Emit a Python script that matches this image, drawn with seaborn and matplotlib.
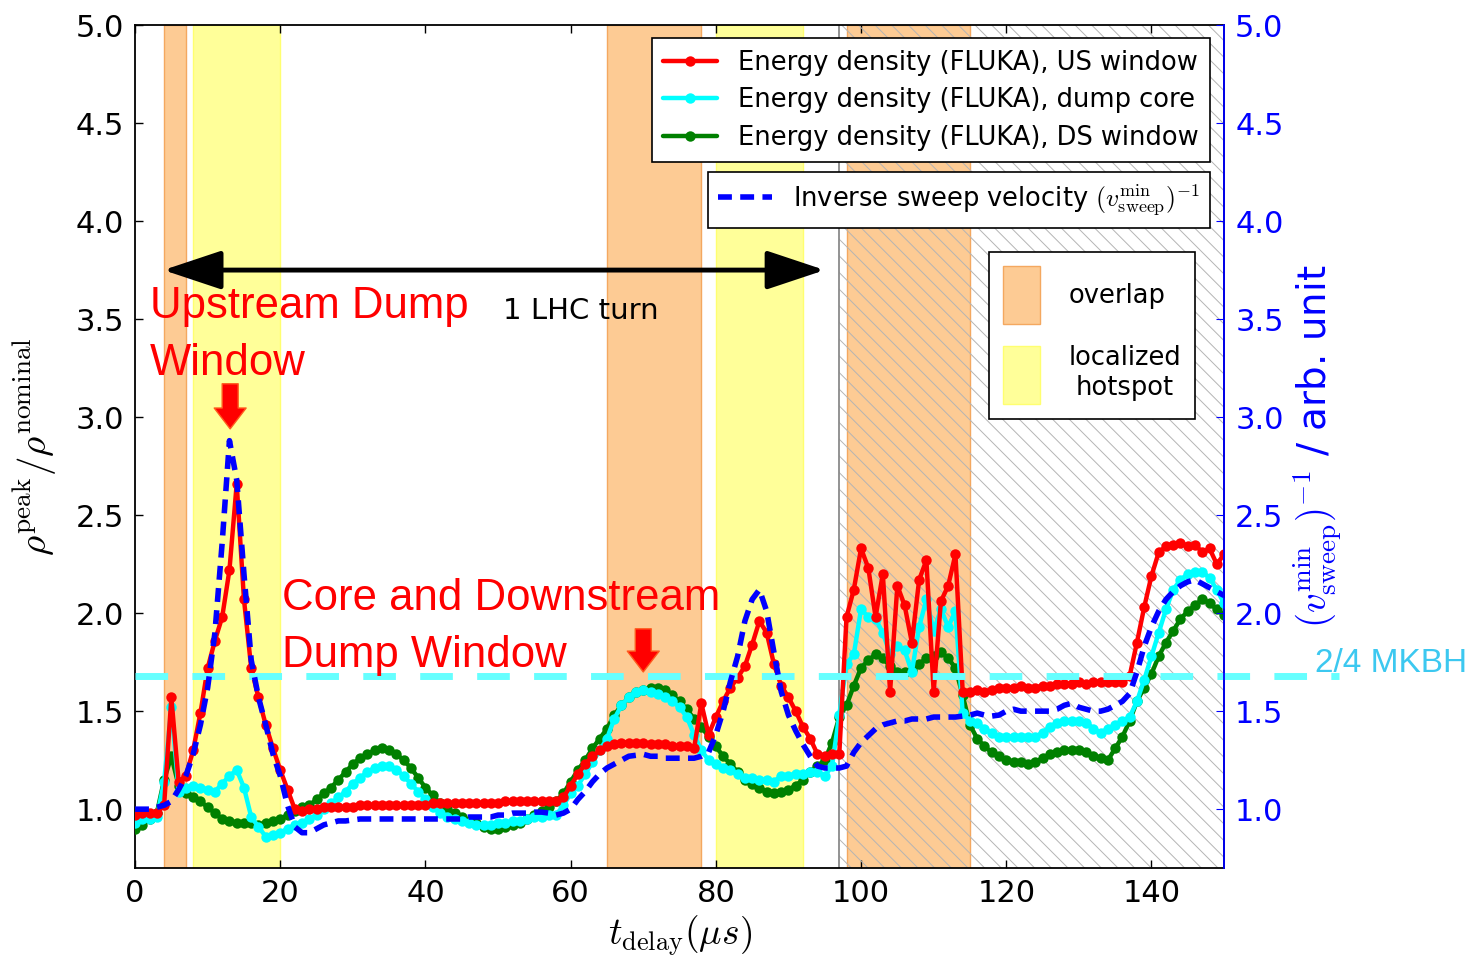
import matplotlib
matplotlib.use("Agg")
import matplotlib.pyplot as plt
import seaborn as sns
from matplotlib.lines import Line2D
from matplotlib.patches import Patch

# ---------------- data ----------------
t_delay = list(range(0, 151))

us_window = [
    0.97, 0.98, 0.98, 0.98, 1.02, 1.57, 1.14, 1.17, 1.30, 1.49,
    1.72, 1.86, 1.98, 2.22, 2.66, 2.07, 1.72, 1.57, 1.43, 1.31,
    1.20, 1.10, 1.00, 0.99, 1.00, 1.00, 1.01, 1.01, 1.01, 1.01,
    1.01, 1.02, 1.02, 1.02, 1.02, 1.02, 1.02, 1.02, 1.02, 1.02,
    1.02, 1.03, 1.03, 1.03, 1.03, 1.03, 1.03, 1.03, 1.03, 1.03,
    1.03, 1.04, 1.04, 1.04, 1.04, 1.04, 1.04, 1.04, 1.04, 1.06,
    1.12, 1.18, 1.23, 1.27, 1.30, 1.32, 1.33, 1.34, 1.34, 1.34,
    1.34, 1.33, 1.33, 1.33, 1.32, 1.32, 1.32, 1.31, 1.54, 1.38,
    1.47, 1.55, 1.62, 1.67, 1.73, 1.84, 1.96, 1.90, 1.74, 1.63,
    1.57, 1.50, 1.42, 1.36, 1.28, 1.27, 1.28, 1.28, 1.98, 2.12,
    2.33, 2.23, 1.98, 2.20, 1.60, 2.14, 2.04, 1.85, 2.17, 2.27,
    1.60, 2.06, 2.14, 2.30, 1.60, 1.60, 1.61, 1.60, 1.61, 1.62,
    1.62, 1.62, 1.63, 1.62, 1.62, 1.63, 1.63, 1.64, 1.64, 1.64,
    1.65, 1.64, 1.65, 1.65, 1.65, 1.65, 1.65, 1.68, 1.85, 2.03,
    2.19, 2.31, 2.34, 2.35, 2.36, 2.34, 2.35, 2.31, 2.33, 2.25, 2.30,
]

dump_core = [
    0.93, 0.95, 0.95, 0.96, 1.14, 1.52, 1.09, 1.11, 1.12, 1.11,
    1.10, 1.09, 1.13, 1.17, 1.20, 1.11, 0.96, 0.91, 0.86, 0.87,
    0.88, 0.90, 0.92, 0.93, 0.95, 0.97, 1.00, 1.03, 1.06, 1.09,
    1.13, 1.16, 1.19, 1.21, 1.22, 1.22, 1.20, 1.17, 1.13, 1.09,
    1.05, 1.01, 0.98, 0.96, 0.95, 0.94, 0.93, 0.92, 0.92, 0.92,
    0.93, 0.93, 0.94, 0.94, 0.95, 0.96, 0.96, 0.97, 0.97, 1.02,
    1.08, 1.12, 1.18, 1.24, 1.30, 1.36, 1.46, 1.53, 1.57, 1.60,
    1.61, 1.60, 1.59, 1.57, 1.55, 1.52, 1.47, 1.38, 1.30, 1.25,
    1.23, 1.21, 1.20, 1.18, 1.16, 1.16, 1.15, 1.15, 1.14, 1.17,
    1.17, 1.18, 1.18, 1.19, 1.19, 1.17, 1.22, 1.48, 1.74, 1.79,
    2.02, 1.98, 1.97, 1.90, 1.79, 1.83, 1.81, 1.70, 1.93, 2.07,
    1.91, 2.02, 1.93, 2.01, 1.49, 1.45, 1.44, 1.41, 1.39, 1.37,
    1.37, 1.37, 1.37, 1.37, 1.37, 1.39, 1.42, 1.44, 1.45, 1.45,
    1.45, 1.44, 1.41, 1.39, 1.41, 1.43, 1.45, 1.47, 1.55, 1.66,
    1.78, 1.90, 2.02, 2.12, 2.17, 2.20, 2.21, 2.21, 2.18, 2.12, 2.05,
]

ds_window = [
    0.90, 0.92, 0.95, 0.98, 1.15, 1.27, 1.12, 1.08, 1.06, 1.04,
    1.01, 0.98, 0.95, 0.94, 0.93, 0.93, 0.93, 0.92, 0.93, 0.94,
    0.95, 0.97, 0.99, 1.01, 1.02, 1.05, 1.08, 1.11, 1.15, 1.19,
    1.23, 1.26, 1.28, 1.30, 1.31, 1.30, 1.28, 1.25, 1.21, 1.16,
    1.11, 1.07, 1.03, 1.00, 0.98, 0.96, 0.94, 0.93, 0.91, 0.90,
    0.90, 0.91, 0.92, 0.93, 0.95, 0.97, 0.99, 1.01, 1.04, 1.08,
    1.14, 1.20, 1.25, 1.31, 1.36, 1.41, 1.48, 1.53, 1.57, 1.60,
    1.61, 1.62, 1.62, 1.61, 1.58, 1.55, 1.51, 1.46, 1.42, 1.37,
    1.32, 1.27, 1.23, 1.19, 1.15, 1.13, 1.11, 1.09, 1.08, 1.09,
    1.10, 1.12, 1.15, 1.19, 1.22, 1.25, 1.34, 1.47, 1.53, 1.63,
    1.72, 1.76, 1.79, 1.77, 1.73, 1.70, 1.70, 1.71, 1.74, 1.77,
    1.78, 1.80, 1.77, 1.72, 1.58, 1.43, 1.36, 1.32, 1.29, 1.27,
    1.25, 1.24, 1.24, 1.23, 1.24, 1.26, 1.28, 1.29, 1.30, 1.30,
    1.30, 1.29, 1.27, 1.26, 1.25, 1.31, 1.37, 1.45, 1.55, 1.62,
    1.69, 1.78, 1.85, 1.91, 1.97, 2.01, 2.04, 2.07, 2.05, 2.02, 1.99,
]

inv_sweep = [
    1.00, 1.00, 1.00, 1.01, 1.02, 1.04, 1.10, 1.17, 1.28, 1.43,
    1.62, 1.90, 2.36, 2.88, 2.68, 2.20, 1.76, 1.57, 1.43, 1.28,
    1.17, 1.02, 0.91, 0.88, 0.88, 0.90, 0.92, 0.93, 0.94, 0.94,
    0.945, 0.95, 0.95, 0.95, 0.95, 0.95, 0.95, 0.95, 0.95, 0.95,
    0.95, 0.95, 0.95, 0.95, 0.95, 0.95, 0.96, 0.96, 0.96, 0.96,
    0.97, 0.97, 0.98, 0.98, 0.98, 0.985, 0.985, 0.98, 0.97, 0.98,
    1.00, 1.05, 1.09, 1.14, 1.18, 1.21, 1.23, 1.25, 1.27, 1.275,
    1.28, 1.27, 1.27, 1.26, 1.26, 1.26, 1.26, 1.26, 1.27, 1.29,
    1.38, 1.50, 1.65, 1.78, 1.96, 2.07, 2.12, 2.01, 1.80, 1.60,
    1.48, 1.40, 1.33, 1.27, 1.22, 1.21, 1.21, 1.21, 1.22, 1.29,
    1.34, 1.375, 1.41, 1.43, 1.44, 1.45, 1.45, 1.46, 1.46, 1.46,
    1.47, 1.47, 1.47, 1.47, 1.475, 1.48, 1.49, 1.48, 1.475, 1.48,
    1.50, 1.51, 1.50, 1.50, 1.50, 1.50, 1.50, 1.51, 1.53, 1.54,
    1.52, 1.51, 1.50, 1.50, 1.51, 1.53, 1.55, 1.59, 1.70, 1.83,
    1.93, 2.01, 2.07, 2.11, 2.14, 2.16, 2.17, 2.15, 2.13, 2.11, 2.09,
]

series_labels = [
    "Energy density (FLUKA), US window",
    "Energy density (FLUKA), dump core",
    "Energy density (FLUKA), DS window",
]
sweep_label = r"Inverse sweep velocity $(v_{\rm sweep}^{\rm min})^{-1}$"

overlap_spans = [(4, 7), (65, 78), (98, 115)]
hotspot_spans = [(8, 20), (80, 92)]
hatched_span = (97, 150)
mkbh_level = 1.68
turn_span = (3.9, 95.0)
turn_level = 3.75

x_ticks = [0, 20, 40, 60, 80, 100, 120, 140]
y_ticks = [1.0, 1.5, 2.0, 2.5, 3.0, 3.5, 4.0, 4.5, 5.0]

# ---------------- style ----------------
sns.set_style("ticks", {"xtick.direction": "in", "ytick.direction": "in"})
plt.rcParams["font.family"] = ["DejaVu Sans"]
plt.rcParams["mathtext.fontset"] = "cm"
plt.rcParams["hatch.linewidth"] = 0.7
plt.rcParams["text.color"] = "black"
plt.rcParams["axes.labelcolor"] = "black"
plt.rcParams["xtick.color"] = "black"
plt.rcParams["ytick.color"] = "black"

fig = plt.figure(figsize=(14.81, 9.59), dpi=100)
ax = fig.add_axes([0.0912, 0.0949, 0.7353, 0.879])

# shaded regions
for a, b in overlap_spans:
    ax.axvspan(a, b, facecolor="#fdcb94", edgecolor="#f4a860", lw=1.0, zorder=0.5)
for a, b in hotspot_spans:
    ax.axvspan(a, b, facecolor="#ffff99", edgecolor="#ffff70", lw=1.0, zorder=0.5)
ax.axvspan(hatched_span[0], hatched_span[1], facecolor="none", edgecolor="#b4b4b4",
           hatch="\\\\", lw=0, zorder=0.6)
ax.axvline(hatched_span[0], color="#8a8a8a", lw=1.3, zorder=0.7)

# energy density curves
for vals, col, z in [(ds_window, "green", 3), (dump_core, "cyan", 4), (us_window, "red", 5)]:
    sns.lineplot(x=t_delay, y=vals, ax=ax, color=col, marker="o", markersize=7.5,
                 markeredgewidth=0, lw=3.2, legend=False, zorder=z)

# MKBH level
ax.axhline(mkbh_level, xmin=0, xmax=1.106, color="#66ffff", lw=5,
           linestyle=(0, (4.7, 3.5)), clip_on=False, zorder=6)
ax.text(162.5, 1.70, "2/4 MKBH", color="#3cc8f0", fontsize=24,
        family="Liberation Sans", va="baseline", ha="left")

# 1 LHC turn arrow
ax.annotate("", xy=(turn_span[0], turn_level), xytext=(turn_span[1], turn_level),
            arrowprops=dict(arrowstyle="<|-|>,head_length=1.8,head_width=0.6",
                            mutation_scale=20, lw=3.5, color="black",
                            shrinkA=0, shrinkB=0), zorder=7)
ax.text(50.7, 3.5, "1 LHC turn", fontsize=21, color="black", va="baseline")

# red annotations
red_font = dict(color="red", fontsize=31.5, family="Liberation Sans", va="baseline", zorder=8)
ax.text(2.07, 3.505, "Upstream Dump", **red_font)
ax.text(2.07, 3.214, "Window", **red_font)
ax.text(20.25, 2.015, "Core and Downstream", **red_font)
ax.text(20.25, 1.725, "Dump Window", **red_font)
for xa, ytop, ytip in [(13.1, 3.17, 2.94), (70.0, 1.92, 1.70)]:
    ax.annotate("", xy=(xa, ytip), xytext=(xa, ytop),
                arrowprops=dict(arrowstyle="simple,head_length=1.5,head_width=2.3,tail_width=1.15",
                                mutation_scale=10, fc="red", ec="#ff5a1e", lw=1,
                                shrinkA=0, shrinkB=0), zorder=8)

ax.set_xlim(0, 150)
ax.set_ylim(0.7, 5.0)
ax.set_xticks(x_ticks)
ax.set_yticks(y_ticks)
ax.tick_params(axis="both", labelsize=22, direction="in", length=6, width=1,
               top=True, right=False, pad=8, colors="black")
for s in ax.spines.values():
    s.set_linewidth(1.3)
    s.set_color("black")
ax.set_xlabel(r"$t_{\rm delay}(\mu s)$", fontsize=27, labelpad=4, color="black")
ax.set_ylabel(r"$\rho^{\rm peak}/\rho^{\rm nominal}$", fontsize=28, labelpad=12, color="black")

# inverse sweep velocity on twin axis
ax2 = ax.twinx()
sns.lineplot(x=t_delay, y=inv_sweep, ax=ax2, color="blue", lw=4, legend=False)
ax2.lines[0].set_linestyle((0, (2.5, 1.5)))
ax2.set_ylim(0.7, 5.0)
ax2.set_yticks(y_ticks)
ax2.tick_params(axis="y", labelsize=22, colors="blue", direction="in", length=6, pad=8)
for k in ["left", "top", "bottom"]:
    ax2.spines[k].set_visible(False)
ax2.spines["right"].set_color("blue")
ax2.spines["right"].set_linewidth(1.3)
ax2.set_ylabel(r"$(v_{\rm sweep}^{\rm min})^{-1}$ / arb. unit", fontsize=28,
               color="blue", labelpad=6)

# legends
h1 = [Line2D([], [], color=c, lw=3.2, marker="o", ms=7.5, mew=0) for c in ["red", "cyan", "green"]]
leg_kw = dict(fontsize=18.5, frameon=True, fancybox=False, edgecolor="black", framealpha=1,
              borderaxespad=0, numpoints=1)
leg1 = ax2.legend(h1, series_labels, loc="upper right", bbox_to_anchor=(0.9871, 0.9846),
                  handlelength=2.1, labelspacing=0.45, borderpad=0.45, handletextpad=0.8, **leg_kw)
leg1.get_frame().set_linewidth(1.2)
ax2.add_artist(leg1)

h2 = [Line2D([], [], color="blue", lw=4, linestyle=(0, (2.5, 1.5)))]
leg2 = ax2.legend(h2, [sweep_label], loc="upper right", bbox_to_anchor=(0.9871, 0.8256),
                  handlelength=2.1, borderpad=0.4, handletextpad=0.8, **leg_kw)
leg2.get_frame().set_linewidth(1.2)
ax2.add_artist(leg2)

h3 = [Patch(facecolor="#fdcb94", edgecolor="#f4a860"), Patch(facecolor="#ffff99", edgecolor="#ffff70")]
leg3 = ax2.legend(h3, ["overlap", "localized\nhotspot"], loc="upper right",
                  bbox_to_anchor=(0.9734, 0.7307), handlelength=1.45, handleheight=3.1,
                  labelspacing=0.8, borderpad=0.55, handletextpad=1.1, borderaxespad=0,
                  fontsize=18.5, frameon=True, fancybox=False, edgecolor="black", framealpha=1)
leg3.get_frame().set_linewidth(1.2)
for txt in leg3.get_texts():
    txt.set_multialignment("center")

fig.savefig("out.png", dpi=100)
